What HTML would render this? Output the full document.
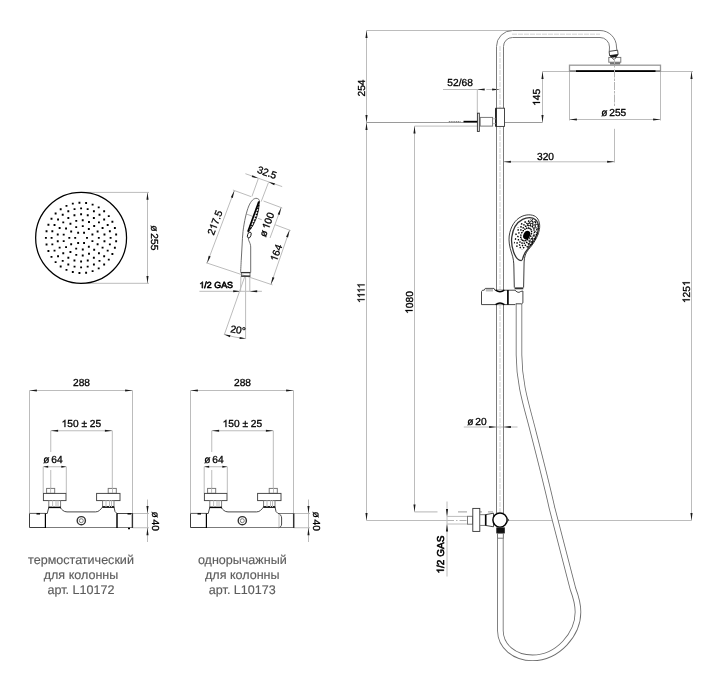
<!DOCTYPE html>
<html><head><meta charset="utf-8"><title>Shower column drawing</title>
<style>
html,body{margin:0;padding:0;background:#fff;}
body{width:720px;height:684px;overflow:hidden;font-family:"Liberation Sans",sans-serif;}
svg{display:block;position:absolute;left:0;top:0;text-rendering:geometricPrecision;will-change:transform;filter:grayscale(1)}
.k{fill:none;stroke:#333;stroke-width:0.9}
.kw{fill:#fff;stroke:#333;stroke-width:0.9}
.kb{fill:none;stroke:#000;stroke-width:1.45}
.g{fill:none;stroke:#747474;stroke-width:0.95}
.gw{fill:#fff;stroke:#747474;stroke-width:0.95}
.d{fill:none;stroke:#bcbcbc;stroke-width:1}
.dd{fill:none;stroke:#b4b4b4;stroke-width:1;stroke-dasharray:7 2 1.5 2}
.a{fill:#1a1a1a;stroke:none}
.f{fill:#111;stroke:none}
.t{font-family:"Liberation Sans",sans-serif;font-size:10.2px;fill:#000;stroke:#000;stroke-width:0.3}
.t1{fill:#000;stroke:#000}
.cap{font-family:"Liberation Sans",sans-serif;font-size:12.55px;fill:#5c5c5c;stroke:#5c5c5c;stroke-width:0.15}
</style></head><body>
<svg width="720" height="684" viewBox="0 0 720 684">
<line x1="81.10" y1="192.40" x2="149.00" y2="192.40" class="d" />
<line x1="81.10" y1="283.30" x2="149.00" y2="283.30" class="d" />
<line x1="147.50" y1="192.40" x2="147.50" y2="283.30" class="d" />
<path d="M147.50 192.40L148.55 199.80L146.45 199.80Z" class="a"/>
<path d="M147.50 283.30L146.45 275.90L148.55 275.90Z" class="a"/>
<circle cx="81.10" cy="237.85" r="45.45" class="k" style="stroke-width:1.25;stroke:#000"/>
<path d="M86.05 236.90h1.9v1.9h-1.9zM83.10 242.01h1.9v1.9h-1.9zM77.20 242.01h1.9v1.9h-1.9zM74.25 236.90h1.9v1.9h-1.9zM77.20 231.79h1.9v1.9h-1.9zM83.10 231.79h1.9v1.9h-1.9zM91.47 240.22h1.9v1.9h-1.9zM87.88 245.82h1.9v1.9h-1.9zM81.83 248.58h1.9v1.9h-1.9zM75.25 247.63h1.9v1.9h-1.9zM70.22 243.28h1.9v1.9h-1.9zM68.35 236.90h1.9v1.9h-1.9zM70.22 230.52h1.9v1.9h-1.9zM75.25 226.17h1.9v1.9h-1.9zM81.83 225.22h1.9v1.9h-1.9zM87.88 227.98h1.9v1.9h-1.9zM91.47 233.58h1.9v1.9h-1.9zM97.85 236.90h1.9v1.9h-1.9zM96.65 243.29h1.9v1.9h-1.9zM93.23 248.82h1.9v1.9h-1.9zM88.04 252.74h1.9v1.9h-1.9zM81.78 254.52h1.9v1.9h-1.9zM75.31 253.92h1.9v1.9h-1.9zM69.48 251.02h1.9v1.9h-1.9zM65.10 246.22h1.9v1.9h-1.9zM62.75 240.15h1.9v1.9h-1.9zM62.75 233.65h1.9v1.9h-1.9zM65.10 227.58h1.9v1.9h-1.9zM69.48 222.78h1.9v1.9h-1.9zM75.31 219.88h1.9v1.9h-1.9zM81.78 219.28h1.9v1.9h-1.9zM88.04 221.06h1.9v1.9h-1.9zM93.23 224.98h1.9v1.9h-1.9zM96.65 230.51h1.9v1.9h-1.9zM103.51 240.26h1.9v1.9h-1.9zM101.62 246.70h1.9v1.9h-1.9zM97.99 252.35h1.9v1.9h-1.9zM92.91 256.75h1.9v1.9h-1.9zM86.80 259.54h1.9v1.9h-1.9zM80.15 260.50h1.9v1.9h-1.9zM73.50 259.54h1.9v1.9h-1.9zM67.39 256.75h1.9v1.9h-1.9zM62.31 252.35h1.9v1.9h-1.9zM58.68 246.70h1.9v1.9h-1.9zM56.79 240.26h1.9v1.9h-1.9zM56.79 233.54h1.9v1.9h-1.9zM58.68 227.10h1.9v1.9h-1.9zM62.31 221.45h1.9v1.9h-1.9zM67.39 217.05h1.9v1.9h-1.9zM73.50 214.26h1.9v1.9h-1.9zM80.15 213.30h1.9v1.9h-1.9zM86.80 214.26h1.9v1.9h-1.9zM92.91 217.05h1.9v1.9h-1.9zM97.99 221.45h1.9v1.9h-1.9zM101.62 227.10h1.9v1.9h-1.9zM103.51 233.54h1.9v1.9h-1.9zM109.65 236.90h1.9v1.9h-1.9zM108.91 243.46h1.9v1.9h-1.9zM106.73 249.70h1.9v1.9h-1.9zM103.21 255.29h1.9v1.9h-1.9zM98.54 259.96h1.9v1.9h-1.9zM92.95 263.48h1.9v1.9h-1.9zM86.71 265.66h1.9v1.9h-1.9zM80.15 266.40h1.9v1.9h-1.9zM73.59 265.66h1.9v1.9h-1.9zM67.35 263.48h1.9v1.9h-1.9zM61.76 259.96h1.9v1.9h-1.9zM57.09 255.29h1.9v1.9h-1.9zM53.57 249.70h1.9v1.9h-1.9zM51.39 243.46h1.9v1.9h-1.9zM50.65 236.90h1.9v1.9h-1.9zM51.39 230.34h1.9v1.9h-1.9zM53.57 224.10h1.9v1.9h-1.9zM57.09 218.51h1.9v1.9h-1.9zM61.76 213.84h1.9v1.9h-1.9zM67.35 210.32h1.9v1.9h-1.9zM73.59 208.14h1.9v1.9h-1.9zM80.15 207.40h1.9v1.9h-1.9zM86.71 208.14h1.9v1.9h-1.9zM92.95 210.32h1.9v1.9h-1.9zM98.54 213.84h1.9v1.9h-1.9zM103.21 218.51h1.9v1.9h-1.9zM106.73 224.10h1.9v1.9h-1.9zM108.91 230.34h1.9v1.9h-1.9zM115.19 240.25h1.9v1.9h-1.9zM113.92 246.82h1.9v1.9h-1.9zM111.44 253.03h1.9v1.9h-1.9zM107.82 258.66h1.9v1.9h-1.9zM103.20 263.50h1.9v1.9h-1.9zM97.75 267.38h1.9v1.9h-1.9zM91.66 270.16h1.9v1.9h-1.9zM85.16 271.74h1.9v1.9h-1.9zM78.48 272.06h1.9v1.9h-1.9zM71.85 271.11h1.9v1.9h-1.9zM65.53 268.92h1.9v1.9h-1.9zM59.73 265.57h1.9v1.9h-1.9zM54.67 261.19h1.9v1.9h-1.9zM50.54 255.93h1.9v1.9h-1.9zM47.47 249.98h1.9v1.9h-1.9zM45.59 243.56h1.9v1.9h-1.9zM44.95 236.90h1.9v1.9h-1.9zM45.59 230.24h1.9v1.9h-1.9zM47.47 223.82h1.9v1.9h-1.9zM50.54 217.87h1.9v1.9h-1.9zM54.67 212.61h1.9v1.9h-1.9zM59.73 208.23h1.9v1.9h-1.9zM65.53 204.88h1.9v1.9h-1.9zM71.85 202.69h1.9v1.9h-1.9zM78.48 201.74h1.9v1.9h-1.9zM85.16 202.06h1.9v1.9h-1.9zM91.66 203.64h1.9v1.9h-1.9zM97.75 206.42h1.9v1.9h-1.9zM103.20 210.30h1.9v1.9h-1.9zM107.82 215.14h1.9v1.9h-1.9zM111.44 220.77h1.9v1.9h-1.9zM113.92 226.98h1.9v1.9h-1.9zM115.19 233.55h1.9v1.9h-1.9z" class="f" style="fill:#000"/>
<g transform="translate(151.20 237.85) rotate(90)">
<text x="-12.49" y="0" class="t" style="font-size:10.2px;stroke-width:0.3">ø</text>
<text x="-4.53" y="0" class="t" style="font-size:10.2px;stroke-width:0.3">255</text>
</g>
<g transform="translate(81.50 386.20) rotate(0)">
<text x="-8.51" y="0" class="t" style="font-size:10.2px;stroke-width:0.3">288</text>
</g>
<line x1="29.50" y1="390.50" x2="132.50" y2="390.50" class="d" />
<path d="M29.50 390.50L36.90 389.45L36.90 391.55Z" class="a"/>
<path d="M132.50 390.50L125.10 391.55L125.10 389.45Z" class="a"/>
<line x1="29.50" y1="390.50" x2="29.50" y2="513.00" class="d" />
<line x1="132.50" y1="390.50" x2="132.50" y2="513.00" class="d" />
<g transform="translate(81.40 427.10) rotate(0)">
<path d="M763 0H583V1147Q518 1085 412.5 1023T223 930V1104Q373 1174.5 485 1275T644 1466H763Z" class="t1" transform="translate(-19.81 0) scale(0.00498 -0.00498)" style="stroke-width:60.2"/>
<text x="-14.14" y="0" class="t" style="font-size:10.2px;stroke-width:0.3">50</text>
<text x="0.04" y="0" class="t" style="font-size:10.2px;stroke-width:0.3">±</text>
<text x="8.47" y="0" class="t" style="font-size:10.2px;stroke-width:0.3">25</text>
</g>
<line x1="50.75" y1="430.75" x2="112.30" y2="430.75" class="d" />
<path d="M50.75 430.75L58.15 429.70L58.15 431.80Z" class="a"/>
<path d="M112.30 430.75L104.90 431.80L104.90 429.70Z" class="a"/>
<line x1="50.75" y1="430.75" x2="50.75" y2="452.00" class="d" />
<line x1="50.75" y1="470.00" x2="50.75" y2="488.00" class="d" />
<line x1="112.30" y1="430.75" x2="112.30" y2="488.00" class="d" />
<g transform="translate(53.00 463.40) rotate(0)">
<text x="-9.65" y="0" class="t" style="font-size:10.2px;stroke-width:0.3">ø</text>
<text x="-1.69" y="0" class="t" style="font-size:10.2px;stroke-width:0.3">64</text>
</g>
<line x1="43.20" y1="466.75" x2="66.30" y2="466.75" class="d" />
<path d="M43.20 466.75L48.20 465.70L48.20 467.80Z" class="a"/>
<path d="M66.30 466.75L61.30 467.80L61.30 465.70Z" class="a"/>
<line x1="43.20" y1="466.75" x2="43.20" y2="493.00" class="d" />
<line x1="66.30" y1="466.75" x2="66.30" y2="493.00" class="d" />
<line x1="132.50" y1="513.50" x2="149.00" y2="513.50" class="d" />
<line x1="132.50" y1="527.75" x2="149.00" y2="527.75" class="d" />
<line x1="147.50" y1="499.50" x2="147.50" y2="542.00" class="d" />
<path d="M147.50 513.50L146.45 506.10L148.55 506.10Z" class="a"/>
<path d="M147.50 527.75L148.55 535.15L146.45 535.15Z" class="a"/>
<g transform="translate(151.80 521.20) rotate(90)">
<text x="-9.65" y="0" class="t" style="font-size:10.2px;stroke-width:0.3">ø</text>
<text x="-1.69" y="0" class="t" style="font-size:10.2px;stroke-width:0.3">40</text>
</g>
<path d="M29.50 513.4V527.5H45.40" class="k" style="stroke-width:0.95"/>
<line x1="29.50" y1="513.40" x2="45.40" y2="513.40" class="g" style="stroke:#555"/>
<line x1="45.60" y1="527.50" x2="132.50" y2="527.50" class="g" />
<line x1="45.40" y1="513.20" x2="45.40" y2="528.00" class="kb" style="stroke-width:1.2"/>
<line x1="36.50" y1="513.80" x2="40.00" y2="513.80" class="kb" />
<path d="M45.60 513.5 H47.20 L48.80 507.4 H59.80 C62.00 509.5 63.50 511.9 67.00 511.9 H95.50 C99.00 511.9 100.50 509.5 102.60 507 H114.00 L115.00 511.5 L117.00 513.5" class="k" />
<rect x="46.60" y="488.40" width="8.10" height="4.90" class="g" />
<line x1="50.60" y1="488.40" x2="50.60" y2="493.30" class="d" />
<rect x="43.40" y="493.40" width="22.60" height="7.20" class="g" style="stroke:#444"/>
<rect x="48.80" y="500.50" width="11.80" height="6.90" class="g" />
<line x1="48.60" y1="507.40" x2="60.80" y2="507.40" class="kb" />
<line x1="52.60" y1="500.50" x2="52.60" y2="507.00" class="d" />
<line x1="56.00" y1="500.50" x2="56.00" y2="507.00" class="d" />
<line x1="58.00" y1="500.50" x2="58.00" y2="507.00" class="d" />
<rect x="108.20" y="488.40" width="8.10" height="4.90" class="g" />
<line x1="112.50" y1="488.40" x2="112.50" y2="493.30" class="d" />
<rect x="96.60" y="493.40" width="23.40" height="7.20" class="g" style="stroke:#444"/>
<rect x="102.60" y="500.50" width="11.40" height="6.50" class="g" />
<line x1="102.40" y1="507.00" x2="114.20" y2="507.00" class="kb" />
<line x1="106.00" y1="500.50" x2="106.00" y2="507.00" class="d" />
<line x1="109.50" y1="500.50" x2="109.50" y2="507.00" class="d" />
<line x1="111.50" y1="500.50" x2="111.50" y2="507.00" class="d" />
<circle cx="81.30" cy="520.70" r="4.10" class="k" style="stroke-width:1.4"/>
<circle cx="81.30" cy="520.70" r="2.00" class="g" />
<path d="M117.00 513.5H132.50V527.75" class="k" />
<line x1="117.00" y1="513.30" x2="117.00" y2="528.00" class="kb" />
<line x1="132.40" y1="513.30" x2="132.40" y2="528.00" class="k" style="stroke-width:1.4"/>
<line x1="127.50" y1="513.80" x2="131.00" y2="513.80" class="kb" />
<line x1="128.00" y1="528.40" x2="130.00" y2="528.40" class="kb" />
<g transform="translate(242.50 386.20) rotate(0)">
<text x="-8.51" y="0" class="t" style="font-size:10.2px;stroke-width:0.3">288</text>
</g>
<line x1="190.50" y1="390.50" x2="293.50" y2="390.50" class="d" />
<path d="M190.50 390.50L197.90 389.45L197.90 391.55Z" class="a"/>
<path d="M293.50 390.50L286.10 391.55L286.10 389.45Z" class="a"/>
<line x1="190.50" y1="390.50" x2="190.50" y2="513.00" class="d" />
<line x1="293.50" y1="390.50" x2="293.50" y2="513.00" class="d" />
<g transform="translate(242.40 427.10) rotate(0)">
<path d="M763 0H583V1147Q518 1085 412.5 1023T223 930V1104Q373 1174.5 485 1275T644 1466H763Z" class="t1" transform="translate(-19.81 0) scale(0.00498 -0.00498)" style="stroke-width:60.2"/>
<text x="-14.14" y="0" class="t" style="font-size:10.2px;stroke-width:0.3">50</text>
<text x="0.04" y="0" class="t" style="font-size:10.2px;stroke-width:0.3">±</text>
<text x="8.47" y="0" class="t" style="font-size:10.2px;stroke-width:0.3">25</text>
</g>
<line x1="211.75" y1="430.75" x2="273.30" y2="430.75" class="d" />
<path d="M211.75 430.75L219.15 429.70L219.15 431.80Z" class="a"/>
<path d="M273.30 430.75L265.90 431.80L265.90 429.70Z" class="a"/>
<line x1="211.75" y1="430.75" x2="211.75" y2="452.00" class="d" />
<line x1="211.75" y1="470.00" x2="211.75" y2="488.00" class="d" />
<line x1="273.30" y1="430.75" x2="273.30" y2="488.00" class="d" />
<g transform="translate(214.00 463.40) rotate(0)">
<text x="-9.65" y="0" class="t" style="font-size:10.2px;stroke-width:0.3">ø</text>
<text x="-1.69" y="0" class="t" style="font-size:10.2px;stroke-width:0.3">64</text>
</g>
<line x1="204.20" y1="466.75" x2="227.30" y2="466.75" class="d" />
<path d="M204.20 466.75L209.20 465.70L209.20 467.80Z" class="a"/>
<path d="M227.30 466.75L222.30 467.80L222.30 465.70Z" class="a"/>
<line x1="204.20" y1="466.75" x2="204.20" y2="493.00" class="d" />
<line x1="227.30" y1="466.75" x2="227.30" y2="493.00" class="d" />
<line x1="293.50" y1="513.50" x2="310.00" y2="513.50" class="d" />
<line x1="293.50" y1="527.75" x2="310.00" y2="527.75" class="d" />
<line x1="308.50" y1="499.50" x2="308.50" y2="542.00" class="d" />
<path d="M308.50 513.50L307.45 506.10L309.55 506.10Z" class="a"/>
<path d="M308.50 527.75L309.55 535.15L307.45 535.15Z" class="a"/>
<g transform="translate(312.80 521.20) rotate(90)">
<text x="-9.65" y="0" class="t" style="font-size:10.2px;stroke-width:0.3">ø</text>
<text x="-1.69" y="0" class="t" style="font-size:10.2px;stroke-width:0.3">40</text>
</g>
<path d="M190.50 513.4V527.5H206.40" class="k" style="stroke-width:0.95"/>
<line x1="190.50" y1="513.40" x2="206.40" y2="513.40" class="g" style="stroke:#555"/>
<line x1="206.60" y1="527.50" x2="293.50" y2="527.50" class="g" />
<line x1="206.40" y1="513.20" x2="206.40" y2="528.00" class="kb" style="stroke-width:1.2"/>
<line x1="197.50" y1="513.80" x2="201.00" y2="513.80" class="kb" />
<path d="M206.60 513.5 H208.20 L209.80 507.4 H220.80 C223.00 509.5 224.50 511.9 228.00 511.9 H256.50 C260.00 511.9 261.50 509.5 263.60 507 H275.00 L276.00 511.5 L278.00 513.5" class="k" />
<rect x="207.60" y="488.40" width="8.10" height="4.90" class="g" />
<line x1="211.60" y1="488.40" x2="211.60" y2="493.30" class="d" />
<rect x="204.40" y="493.40" width="22.60" height="7.20" class="g" style="stroke:#444"/>
<rect x="209.80" y="500.50" width="11.80" height="6.90" class="g" />
<line x1="209.60" y1="507.40" x2="221.80" y2="507.40" class="kb" />
<line x1="213.60" y1="500.50" x2="213.60" y2="507.00" class="d" />
<line x1="217.00" y1="500.50" x2="217.00" y2="507.00" class="d" />
<line x1="219.00" y1="500.50" x2="219.00" y2="507.00" class="d" />
<rect x="269.20" y="488.40" width="8.10" height="4.90" class="g" />
<line x1="273.50" y1="488.40" x2="273.50" y2="493.30" class="d" />
<rect x="257.60" y="493.40" width="23.40" height="7.20" class="g" style="stroke:#444"/>
<rect x="263.60" y="500.50" width="11.40" height="6.50" class="g" />
<line x1="263.40" y1="507.00" x2="275.20" y2="507.00" class="kb" />
<line x1="267.00" y1="500.50" x2="267.00" y2="507.00" class="d" />
<line x1="270.50" y1="500.50" x2="270.50" y2="507.00" class="d" />
<line x1="272.50" y1="500.50" x2="272.50" y2="507.00" class="d" />
<circle cx="242.30" cy="520.70" r="4.10" class="k" style="stroke-width:1.4"/>
<circle cx="242.30" cy="520.70" r="2.00" class="g" />
<path d="M278.00 513.5H293.50" class="g" />
<path d="M278.00 513.5 C280.50 514 281.60 516 281.60 518 V524 C281.60 526 280.50 527.3 278.50 527.75" class="k" />
<line x1="279.00" y1="515.00" x2="279.00" y2="527.50" class="d" />
<line x1="293.70" y1="513.30" x2="293.70" y2="528.00" class="k" style="stroke-width:1.5"/>
<text x="81.00" y="563.60" class="cap" text-anchor="middle">термостатический</text>
<text x="81.00" y="578.95" class="cap" text-anchor="middle">для колонны</text>
<text x="81.00" y="594.30" class="cap" text-anchor="middle">арт. L10172</text>
<text x="242.30" y="563.60" class="cap" text-anchor="middle">однорычажный</text>
<text x="242.30" y="578.95" class="cap" text-anchor="middle">для колонны</text>
<text x="242.30" y="594.30" class="cap" text-anchor="middle">арт. L10173</text>
<line x1="245.40" y1="173.70" x2="282.20" y2="186.60" class="d" />
<line x1="258.20" y1="179.00" x2="251.90" y2="196.50" class="d" />
<line x1="268.40" y1="182.70" x2="261.20" y2="201.60" class="d" />
<path d="M258.20 178.30L251.72 177.12L252.42 175.14Z" class="a"/>
<path d="M268.40 182.00L274.88 183.18L274.18 185.16Z" class="a"/>
<g transform="translate(265.80 175.90) rotate(19.5)">
<text x="-9.93" y="0" class="t" style="font-size:10.2px;stroke-width:0.3">32.5</text>
</g>
<line x1="234.40" y1="190.60" x2="207.10" y2="263.10" class="d" />
<path d="M234.40 190.60L232.79 197.90L230.82 197.16Z" class="a"/>
<path d="M207.10 263.10L208.71 255.80L210.68 256.54Z" class="a"/>
<line x1="232.90" y1="190.00" x2="251.00" y2="196.60" class="d" />
<line x1="206.00" y1="262.70" x2="272.50" y2="284.90" class="d" />
<g transform="translate(218.20 223.90) rotate(-69.5)">
<text x="-12.76" y="0" class="t" style="font-size:10.2px;stroke-width:0.3">2</text>
<path d="M763 0H583V1147Q518 1085 412.5 1023T223 930V1104Q373 1174.5 485 1275T644 1466H763Z" class="t1" transform="translate(-7.09 0) scale(0.00498 -0.00498)" style="stroke-width:60.2"/>
<text x="-1.42" y="0" class="t" style="font-size:10.2px;stroke-width:0.3">7.5</text>
</g>
<line x1="263.50" y1="201.00" x2="282.30" y2="208.00" class="d" />
<line x1="281.20" y1="207.60" x2="270.00" y2="238.00" class="d" />
<path d="M281.20 207.60L279.63 214.91L277.66 214.18Z" class="a"/>
<g transform="translate(270.10 225.70) rotate(-69.8)">
<text x="-12.49" y="0" class="t" style="font-size:10.2px;stroke-width:0.3">ø</text>
<path d="M763 0H583V1147Q518 1085 412.5 1023T223 930V1104Q373 1174.5 485 1275T644 1466H763Z" class="t1" transform="translate(-4.53 0) scale(0.00498 -0.00498)" style="stroke-width:60.2"/>
<text x="1.15" y="0" class="t" style="font-size:10.2px;stroke-width:0.3">00</text>
</g>
<line x1="246.40" y1="214.00" x2="261.70" y2="219.70" class="dd" />
<line x1="275.00" y1="224.70" x2="290.60" y2="230.50" class="d" />
<line x1="289.60" y1="230.10" x2="270.90" y2="284.40" class="d" />
<path d="M289.60 230.10L288.03 237.41L286.06 236.68Z" class="a"/>
<path d="M270.90 284.40L272.47 277.09L274.44 277.82Z" class="a"/>
<g transform="translate(279.50 254.00) rotate(-69.8)">
<path d="M763 0H583V1147Q518 1085 412.5 1023T223 930V1104Q373 1174.5 485 1275T644 1466H763Z" class="t1" transform="translate(-8.51 0) scale(0.00498 -0.00498)" style="stroke-width:60.2"/>
<text x="-2.84" y="0" class="t" style="font-size:10.2px;stroke-width:0.3">64</text>
</g>
<g transform="translate(199.40 288.10) rotate(0)">
<path d="M763 0H583V1147Q518 1085 412.5 1023T223 930V1104Q373 1174.5 485 1275T644 1466H763Z" class="t1" transform="translate(0.00 0) scale(0.00435 -0.00435)" style="stroke-width:138.1"/>
<text x="4.95" y="0" class="t" style="font-size:8.9px;stroke-width:0.6">/2</text>
<text x="14.84" y="0" class="t" style="font-size:8.9px;stroke-width:0.6">GAS</text>
</g>
<line x1="199.40" y1="291.30" x2="261.90" y2="291.30" class="d" />
<path d="M240.60 291.30L233.20 292.35L233.20 290.25Z" class="a"/>
<path d="M249.80 291.30L257.20 290.25L257.20 292.35Z" class="a"/>
<line x1="240.90" y1="276.30" x2="240.60" y2="291.30" class="d" />
<line x1="249.80" y1="276.30" x2="249.80" y2="291.30" class="d" />
<line x1="245.60" y1="276.50" x2="245.60" y2="339.00" class="d" />
<line x1="244.60" y1="277.00" x2="224.20" y2="335.00" class="d" />
<path d="M224.4 334.6 Q235 337.6 245.6 338.6" class="d" />
<path d="M224.40 334.60L230.46 335.24L229.88 337.26Z" class="a"/>
<path d="M245.60 338.60L239.52 339.02L239.74 336.93Z" class="a"/>
<g transform="translate(237.50 333.40) rotate(9)">
<text x="-7.71" y="0" class="t" style="font-size:10.2px;stroke-width:0.3">20°</text>
</g>
<path d="M240.60 272.50 C240.72 270.25 241.05 263.58 241.30 259.00 C241.55 254.42 241.82 249.58 242.10 245.00 C242.38 240.42 242.43 236.17 243.00 231.50 C243.57 226.83 244.53 221.25 245.50 217.00 C246.47 212.75 247.63 208.82 248.80 206.00 C249.97 203.18 251.28 201.38 252.50 200.10 C253.72 198.82 255.05 198.42 256.10 198.30 C257.15 198.18 258.22 198.90 258.80 199.40 C259.38 199.90 259.47 200.98 259.60 201.30" class="g" style="stroke:#666"/>
<path d="M250.7 272.5 V247 C250.7 244.5 249.6 242.5 248.9 240.8 C248.4 239.6 248.2 238.8 248.5 238.0" class="g" style="stroke:#666"/>
<path d="M259.3 201.0 Q259.2 218.8 248.2 232.2" class="k" style="stroke:#000;stroke-width:0.9"/>
<path d="M258.9 201.6 L247.9 231.7" class="kb" style="stroke-width:1.7"/>
<path d="M258.6 205.0 Q256.6 218.0 249.8 229.4" class="k" style="stroke:#000;stroke-width:1.6;stroke-dasharray:1.3 1.7"/>
<ellipse cx="249.3" cy="235.0" rx="1.7" ry="3.1" class="k" transform="rotate(18 249.3 235.0)" style="stroke:#111"/>
<rect x="241.40" y="272.50" width="8.60" height="3.60" class="g" />
<line x1="240.90" y1="272.60" x2="250.40" y2="272.60" class="k" style="stroke-width:1.3"/>
<line x1="241.20" y1="276.20" x2="250.20" y2="276.20" class="k" style="stroke-width:1.3"/>
<line x1="366.50" y1="30.50" x2="511.00" y2="30.50" class="d" />
<line x1="366.50" y1="30.50" x2="366.50" y2="520.50" class="d" />
<path d="M366.50 30.50L367.55 37.90L365.45 37.90Z" class="a"/>
<path d="M366.50 122.50L365.45 115.10L367.55 115.10Z" class="a"/>
<path d="M366.50 122.50L367.55 129.90L365.45 129.90Z" class="a"/>
<path d="M366.50 520.50L365.45 513.10L367.55 513.10Z" class="a"/>
<line x1="366.50" y1="122.50" x2="477.30" y2="122.50" class="d" style="stroke:#9a9a9a"/>
<line x1="504.60" y1="122.50" x2="542.50" y2="122.50" class="d" style="stroke:#9a9a9a"/>
<g transform="translate(364.60 88.00) rotate(-90)">
<text x="-8.51" y="0" class="t" style="font-size:10.2px;stroke-width:0.3">254</text>
</g>
<g transform="translate(364.60 292.80) rotate(-90)">
<path d="M763 0H583V1147Q518 1085 412.5 1023T223 930V1104Q373 1174.5 485 1275T644 1466H763Z" class="t1" transform="translate(-10.21 0) scale(0.00498 -0.00498)" style="stroke-width:60.2"/>
<path d="M763 0H583V1147Q518 1085 412.5 1023T223 930V1104Q373 1174.5 485 1275T644 1466H763Z" class="t1" transform="translate(-5.29 0) scale(0.00498 -0.00498)" style="stroke-width:60.2"/>
<path d="M763 0H583V1147Q518 1085 412.5 1023T223 930V1104Q373 1174.5 485 1275T644 1466H763Z" class="t1" transform="translate(-0.38 0) scale(0.00498 -0.00498)" style="stroke-width:60.2"/>
<path d="M763 0H583V1147Q518 1085 412.5 1023T223 930V1104Q373 1174.5 485 1275T644 1466H763Z" class="t1" transform="translate(4.54 0) scale(0.00498 -0.00498)" style="stroke-width:60.2"/>
</g>
<line x1="414.50" y1="126.10" x2="414.50" y2="511.90" class="d" />
<path d="M414.50 126.10L415.55 133.50L413.45 133.50Z" class="a"/>
<path d="M414.50 511.90L413.45 504.50L415.55 504.50Z" class="a"/>
<line x1="414.50" y1="126.10" x2="479.00" y2="126.10" class="d" />
<line x1="414.50" y1="511.90" x2="437.50" y2="511.90" class="d" style="stroke-width:1.1"/>
<line x1="458.00" y1="511.90" x2="493.00" y2="511.90" class="d" style="stroke-width:1.2;stroke:#b0b0b0" stroke-dasharray="9 6"/>
<g transform="translate(412.60 302.50) rotate(-90)">
<path d="M763 0H583V1147Q518 1085 412.5 1023T223 930V1104Q373 1174.5 485 1275T644 1466H763Z" class="t1" transform="translate(-11.35 0) scale(0.00498 -0.00498)" style="stroke-width:60.2"/>
<text x="-5.67" y="0" class="t" style="font-size:10.2px;stroke-width:0.3">080</text>
</g>
<line x1="366.50" y1="520.50" x2="447.00" y2="520.50" class="d" />
<line x1="447.00" y1="520.50" x2="493.00" y2="520.50" class="dd" />
<line x1="508.50" y1="520.50" x2="691.50" y2="520.50" class="d" />
<line x1="660.50" y1="71.50" x2="693.00" y2="71.50" class="d" />
<line x1="691.50" y1="71.50" x2="691.50" y2="520.50" class="d" />
<path d="M691.50 71.50L692.55 78.90L690.45 78.90Z" class="a"/>
<path d="M691.50 520.50L690.45 513.10L692.55 513.10Z" class="a"/>
<g transform="translate(689.80 291.80) rotate(-90)">
<path d="M763 0H583V1147Q518 1085 412.5 1023T223 930V1104Q373 1174.5 485 1275T644 1466H763Z" class="t1" transform="translate(-11.35 0) scale(0.00498 -0.00498)" style="stroke-width:60.2"/>
<text x="-5.67" y="0" class="t" style="font-size:10.2px;stroke-width:0.3">25</text>
<path d="M763 0H583V1147Q518 1085 412.5 1023T223 930V1104Q373 1174.5 485 1275T644 1466H763Z" class="t1" transform="translate(5.67 0) scale(0.00498 -0.00498)" style="stroke-width:60.2"/>
</g>
<line x1="542.50" y1="71.50" x2="569.50" y2="71.50" class="d" />
<line x1="542.50" y1="71.50" x2="542.50" y2="122.50" class="d" />
<path d="M542.50 71.50L543.55 78.90L541.45 78.90Z" class="a"/>
<path d="M542.50 122.50L541.45 115.10L543.55 115.10Z" class="a"/>
<g transform="translate(540.00 97.30) rotate(-90)">
<path d="M763 0H583V1147Q518 1085 412.5 1023T223 930V1104Q373 1174.5 485 1275T644 1466H763Z" class="t1" transform="translate(-8.51 0) scale(0.00498 -0.00498)" style="stroke-width:60.2"/>
<text x="-2.84" y="0" class="t" style="font-size:10.2px;stroke-width:0.3">45</text>
</g>
<line x1="569.50" y1="71.50" x2="569.50" y2="120.50" class="d" />
<line x1="660.50" y1="71.50" x2="660.50" y2="120.50" class="d" />
<line x1="569.50" y1="119.50" x2="660.50" y2="119.50" class="d" />
<path d="M569.50 119.50L576.90 118.45L576.90 120.55Z" class="a"/>
<path d="M660.50 119.50L653.10 120.55L653.10 118.45Z" class="a"/>
<g transform="translate(613.80 116.00) rotate(0)">
<text x="-12.49" y="0" class="t" style="font-size:10.2px;stroke-width:0.3">ø</text>
<text x="-4.53" y="0" class="t" style="font-size:10.2px;stroke-width:0.3">255</text>
</g>
<line x1="614.50" y1="58.00" x2="614.50" y2="106.00" class="dd" />
<line x1="614.50" y1="128.80" x2="614.50" y2="162.50" class="d" />
<line x1="503.50" y1="161.80" x2="614.50" y2="161.80" class="d" />
<path d="M503.50 161.80L510.90 160.75L510.90 162.85Z" class="a"/>
<path d="M614.50 161.80L607.10 162.85L607.10 160.75Z" class="a"/>
<g transform="translate(545.50 160.20) rotate(0)">
<text x="-8.51" y="0" class="t" style="font-size:10.2px;stroke-width:0.3">320</text>
</g>
<g transform="translate(460.10 85.60) rotate(0)">
<text x="-12.76" y="0" class="t" style="font-size:10.2px;stroke-width:0.3">52/68</text>
</g>
<line x1="443.00" y1="89.50" x2="477.30" y2="89.50" class="d" />
<line x1="477.30" y1="89.50" x2="499.50" y2="89.50" class="d" stroke-dasharray="7 2"/>
<path d="M477.30 89.50L484.70 88.45L484.70 90.55Z" class="a"/>
<path d="M499.50 89.50L492.10 90.55L492.10 88.45Z" class="a"/>
<line x1="477.30" y1="89.50" x2="477.30" y2="113.00" class="d" />
<line x1="463.80" y1="427.00" x2="517.50" y2="427.00" class="d" />
<path d="M496.50 427.00L489.10 428.05L489.10 425.95Z" class="a"/>
<path d="M503.50 427.00L510.90 425.95L510.90 428.05Z" class="a"/>
<g transform="translate(477.00 424.60) rotate(0)">
<text x="-9.65" y="0" class="t" style="font-size:10.2px;stroke-width:0.3">ø</text>
<text x="-1.69" y="0" class="t" style="font-size:10.2px;stroke-width:0.3">20</text>
</g>
<line x1="447.00" y1="501.50" x2="447.00" y2="576.50" class="d" />
<path d="M447.00 516.40L445.95 509.00L448.05 509.00Z" class="a"/>
<path d="M447.00 524.00L448.05 531.40L445.95 531.40Z" class="a"/>
<line x1="447.00" y1="516.40" x2="467.50" y2="516.40" class="d" />
<line x1="447.00" y1="524.00" x2="467.50" y2="524.00" class="d" />
<g transform="translate(443.80 554.60) rotate(-90)">
<path d="M763 0H583V1147Q518 1085 412.5 1023T223 930V1104Q373 1174.5 485 1275T644 1466H763Z" class="t1" transform="translate(-18.90 0) scale(0.00488 -0.00488)" style="stroke-width:122.9"/>
<text x="-13.34" y="0" class="t" style="font-size:10.0px;stroke-width:0.6">/2</text>
<text x="-2.22" y="0" class="t" style="font-size:10.0px;stroke-width:0.6">GAS</text>
</g>
<path d="M500.35 533 V630.5 C500.5 646 514 657.8 532.5 657.8 C558 657.8 578 634 578 612 C578 604 576 597 573 589 L552 508 C548 490 541 462 533 431 C527 407 519.2 385 519 355 V304" class="g" style="stroke-width:6.5;stroke:#6e6e6e"/>
<path d="M500.35 533 V630.5 C500.5 646 514 657.8 532.5 657.8 C558 657.8 578 634 578 612 C578 604 576 597 573 589 L552 508 C548 490 541 462 533 431 C527 407 519.2 385 519 355 V304" class="g" style="stroke-width:4.8;stroke:#fff"/>
<line x1="500.00" y1="46.00" x2="500.00" y2="512.00" class="d" style="stroke:#d2d2d2;stroke-dasharray:5 1"/>
<line x1="512.00" y1="34.20" x2="600.00" y2="34.20" class="d" style="stroke:#d2d2d2;stroke-dasharray:5 1"/>
<path d="M496.5 513 V46.5 A16 16 0 0 1 512.5 30.5 H600 A16.5 16.5 0 0 1 616.5 47 L616.9 50.5" class="g" />
<path d="M503.5 513 V46.5 A9 9 0 0 1 512.5 37.5 H600 A9.5 9.5 0 0 1 609.5 47 L609.3 51" class="g" />
<path d="M609.1 51.4 L617.6 50.2 L618.1 54.4 L609.6 55.6 Z" class="kw" />
<path d="M609.6 55.6 L618.0 54.6 L614.2 59.8 Z" class="f" />
<rect x="608.80" y="57.40" width="12.00" height="4.80" class="gw" />
<path d="M609.6 55.6 L614.2 59.8 L618 54.6" class="k" />
<rect x="610.00" y="62.20" width="10.20" height="2.40" class="g" style="fill:#777;stroke:none"/>
<rect x="569.50" y="65.20" width="91.00" height="5.90" class="d" style="stroke:#999;stroke-width:1.3;fill:#fff"/>
<line x1="569.50" y1="71.20" x2="660.50" y2="71.20" class="k" style="stroke:#777;stroke-width:1.2"/>
<line x1="576.00" y1="71.20" x2="655.50" y2="71.20" class="kb" style="stroke-width:1.7"/>
<line x1="614.50" y1="57.00" x2="614.50" y2="106.00" class="dd" />
<rect x="495.90" y="108.20" width="8.60" height="18.20" class="kw" />
<line x1="496.00" y1="108.20" x2="496.00" y2="126.40" class="kb" />
<rect x="480.20" y="117.40" width="12.40" height="8.70" class="gw" />
<rect x="477.40" y="113.20" width="1.90" height="18.20" class="gw" style="stroke:#333"/>
<line x1="463.50" y1="121.60" x2="477.30" y2="121.60" class="kb" style="stroke-width:1.6"/>
<line x1="448.80" y1="121.80" x2="460.50" y2="121.80" class="g" style="stroke-width:1.4;stroke:#888;stroke-dasharray:1.2 0.6"/>
<line x1="493.00" y1="118.80" x2="495.50" y2="118.80" class="d" />
<line x1="493.00" y1="123.60" x2="495.50" y2="123.60" class="d" />
<path d="M481.5 304.6 V291.6 L482.6 290.2 H484.2 L485.3 288.4 H494 L494.9 290.2 H507.9 V304.6 Z" class="kw" />
<rect x="485.80" y="288.90" width="7.20" height="2.60" class="d" style="fill:#bbb;stroke:none"/>
<path d="M495.6 290.2 Q500 293.2 504.4 290.2" class="kb" style="fill:#fff"/>
<path d="M495.6 304.6 Q500 301.2 504.4 304.6" class="kb" style="fill:#fff"/>
<path d="M507.9 290.2 H515 Q517 292.6 519 292.4 Q520.6 291.2 522.9 291 V302.9 L521.7 303.8 H515.8 L515 304.6 H507.9 Z" class="kw" />
<line x1="507.90" y1="290.00" x2="507.90" y2="304.80" class="kb" />
<path d="M514.3 287.6 L513.9 268 C513.8 262 513.5 258.5 511.6 253 C509.4 246.5 508.6 241 509.2 236 C510.5 226 515.6 219.5 521 216.8 C526 214.2 532 214.2 535.6 216.6 C539.2 219.2 540.3 224.5 539.4 229.5 C538 237 533 244.5 528.4 249.6 C525.6 253 524.3 256.5 524.1 262 L523.6 287.6" class="gw" style="stroke:#333"/>
<path d="M521.2 260.6 C518 260.6 515.6 257.5 513.6 252 C511.6 246.5 511.2 241.5 511.8 237 C513 228 517.5 222 522.6 219.4 C527 217.2 532.4 217.1 535.2 219.4 C538.2 221.8 539 226 538.2 230.2 C537 237 532.6 243.6 528 248.8 C525 252.2 523.6 255 522.9 258 C522.6 259.6 522 260.6 521.2 260.6 Z" class="k" style="stroke-width:1.3"/>
<rect x="514.60" y="287.40" width="8.70" height="1.90" class="f" style="fill:#333"/>
<rect x="467.50" y="516.30" width="5.20" height="7.90" class="gw" />
<rect x="472.80" y="508.40" width="7.00" height="23.00" class="kw" />
<rect x="479.80" y="514.70" width="5.60" height="10.70" class="gw" />
<path d="M485.4 514.7 L493.5 513.2 V526.8 L485.4 525.4 Z" class="kw" />
<line x1="485.80" y1="514.70" x2="485.80" y2="525.40" class="kb" />
<circle cx="500.00" cy="520.00" r="7.10" class="kb" style="fill:#fff"/>
<path d="M506.6 517.8 L508.4 520 L506.6 522.2" class="k" style="stroke-width:1.3"/>
<rect x="496.30" y="527.40" width="8.50" height="6.00" class="f" />
<rect x="497.50" y="533.40" width="5.80" height="4.80" class="gw" />
<path d="M529.46 228.97 L530.10 228.37 L530.78 227.83 L531.49 227.34 L532.22 226.91 L532.98 226.55 L533.75 226.26 L534.53 226.05 L535.32 225.92 L536.11 225.87 L536.89 225.90 L537.67 226.02 L538.42 226.24" class="k" style="stroke:#000;stroke-width:1.5;stroke-dasharray:1.4 1.6"/>
<path d="M533.45 230.56 L534.12 230.70 L534.77 230.93 L535.39 231.26 L535.97 231.68 L536.51 232.19 L537.00 232.80 L537.44 233.51 L537.83 234.30" class="k" style="stroke:#000;stroke-width:0.9"/>
<path d="M530.45 230.01 L531.14 229.65 L531.85 229.37 L532.56 229.16 L533.27 229.04 L533.99 228.99 L534.69 229.02 L535.38 229.15 L536.05 229.36 L536.70 229.66 L537.31 230.05 L537.89 230.54 L538.43 231.11" class="k" style="stroke:#000;stroke-width:1.5;stroke-dasharray:1.4 1.6"/>
<path d="M533.15 233.54 L533.64 233.99 L534.09 234.53 L534.49 235.16 L534.82 235.88 L535.10 236.68 L535.31 237.56 L535.45 238.52 L535.51 239.55" class="k" style="stroke:#000;stroke-width:0.9"/>
<path d="M530.92 231.57 L531.58 231.51 L532.23 231.52 L532.86 231.62 L533.47 231.80 L534.06 232.07 L534.61 232.43 L535.12 232.88 L535.59 233.41 L536.01 234.03 L536.39 234.73 L536.70 235.51 L536.96 236.38" class="k" style="stroke:#000;stroke-width:1.5;stroke-dasharray:1.4 1.6"/>
<path d="M532.01 236.61 L532.27 237.32 L532.46 238.11 L532.59 238.97 L532.64 239.90 L532.62 240.89 L532.52 241.94 L532.34 243.04 L532.08 244.19" class="k" style="stroke:#000;stroke-width:0.9"/>
<path d="M530.82 233.48 L531.37 233.71 L531.89 234.02 L532.36 234.41 L532.79 234.88 L533.18 235.44 L533.51 236.08 L533.78 236.79 L534.00 237.58 L534.15 238.44 L534.23 239.37 L534.25 240.36 L534.19 241.41" class="k" style="stroke:#000;stroke-width:1.5;stroke-dasharray:1.4 1.6"/>
<path d="M530.17 239.42 L530.16 240.31 L530.08 241.25 L529.92 242.23 L529.68 243.26 L529.36 244.32 L528.96 245.41 L528.49 246.52 L527.93 247.64" class="k" style="stroke:#000;stroke-width:0.9"/>
<path d="M530.17 235.50 L530.54 235.99 L530.86 236.56 L531.12 237.20 L531.32 237.91 L531.45 238.68 L531.53 239.52 L531.53 240.42 L531.46 241.37 L531.33 242.37 L531.11 243.41 L530.83 244.48 L530.46 245.59" class="k" style="stroke:#000;stroke-width:1.5;stroke-dasharray:1.4 1.6"/>
<path d="M529.04 237.39 L529.18 238.09 L529.26 238.84 L529.28 239.65 L529.22 240.51 L529.10 241.41 L528.90 242.35 L528.64 243.32 L528.30 244.31 L527.88 245.33 L527.40 246.36 L526.84 247.39 L526.22 248.42" class="k" style="stroke:#000;stroke-width:1.5;stroke-dasharray:1.4 1.6"/>
<path d="M527.56 238.91 L527.47 239.73 L527.30 240.59 L527.07 241.47 L526.77 242.37 L526.40 243.29 L525.96 244.21 L525.45 245.14 L524.87 246.06 L524.24 246.98 L523.54 247.87 L522.78 248.73 L521.97 249.57" class="k" style="stroke:#000;stroke-width:1.5;stroke-dasharray:1.4 1.6"/>
<path d="M525.92 239.90 L525.60 240.74 L525.21 241.59 L524.76 242.43 L524.24 243.27 L523.67 244.10 L523.04 244.90 L522.35 245.67 L521.61 246.41 L520.83 247.10 L520.00 247.75 L519.14 248.35 L518.24 248.88" class="k" style="stroke:#000;stroke-width:1.5;stroke-dasharray:1.4 1.6"/>
<path d="M524.32 240.21 L523.80 240.98 L523.24 241.72 L522.62 242.43 L521.95 243.10 L521.25 243.73 L520.50 244.31 L519.72 244.84 L518.91 245.30 L518.07 245.70 L517.21 246.03 L516.34 246.28 L515.46 246.45" class="k" style="stroke:#000;stroke-width:1.5;stroke-dasharray:1.4 1.6"/>
<path d="M522.94 239.83 L522.30 240.43 L521.62 240.97 L520.91 241.46 L520.18 241.89 L519.42 242.25 L518.65 242.54 L517.87 242.75 L517.08 242.88 L516.29 242.93 L515.51 242.90 L514.73 242.78 L513.98 242.56" class="k" style="stroke:#000;stroke-width:1.5;stroke-dasharray:1.4 1.6"/>
<path d="M521.95 238.79 L521.26 239.15 L520.55 239.43 L519.84 239.64 L519.13 239.76 L518.41 239.81 L517.71 239.78 L517.02 239.65 L516.35 239.44 L515.70 239.14 L515.09 238.75 L514.51 238.26 L513.97 237.69" class="k" style="stroke:#000;stroke-width:1.5;stroke-dasharray:1.4 1.6"/>
<path d="M521.48 237.23 L520.82 237.29 L520.17 237.28 L519.54 237.18 L518.93 237.00 L518.34 236.73 L517.79 236.37 L517.28 235.92 L516.81 235.39 L516.39 234.77 L516.01 234.07 L515.70 233.29 L515.44 232.42" class="k" style="stroke:#000;stroke-width:1.5;stroke-dasharray:1.4 1.6"/>
<path d="M521.58 235.32 L521.03 235.09 L520.51 234.78 L520.04 234.39 L519.61 233.92 L519.22 233.36 L518.89 232.72 L518.62 232.01 L518.40 231.22 L518.25 230.36 L518.17 229.43 L518.15 228.44 L518.21 227.39" class="k" style="stroke:#000;stroke-width:1.5;stroke-dasharray:1.4 1.6"/>
<path d="M522.23 233.30 L521.86 232.81 L521.54 232.24 L521.28 231.60 L521.08 230.89 L520.95 230.12 L520.87 229.28 L520.87 228.38 L520.94 227.43 L521.07 226.43 L521.29 225.39 L521.57 224.32 L521.94 223.21" class="k" style="stroke:#000;stroke-width:1.5;stroke-dasharray:1.4 1.6"/>
<path d="M523.36 231.41 L523.22 230.71 L523.14 229.96 L523.12 229.15 L523.18 228.29 L523.30 227.39 L523.50 226.45 L523.76 225.48 L524.10 224.49 L524.52 223.47 L525.00 222.44 L525.56 221.41 L526.18 220.38" class="k" style="stroke:#000;stroke-width:1.5;stroke-dasharray:1.4 1.6"/>
<path d="M527.07 225.84 L527.57 224.94 L528.15 224.04 L528.79 223.16 L529.50 222.30 L530.26 221.48 L531.08 220.69 L531.94 219.96 L532.86 219.27" class="k" style="stroke:#000;stroke-width:0.9"/>
<path d="M524.84 229.89 L524.93 229.07 L525.10 228.21 L525.33 227.33 L525.63 226.43 L526.00 225.51 L526.44 224.59 L526.95 223.66 L527.53 222.74 L528.16 221.82 L528.86 220.93 L529.62 220.07 L530.43 219.23" class="k" style="stroke:#000;stroke-width:1.5;stroke-dasharray:1.4 1.6"/>
<path d="M529.48 225.54 L530.16 224.79 L530.89 224.08 L531.67 223.42 L532.49 222.82 L533.35 222.27 L534.24 221.79 L535.16 221.39 L536.09 221.06" class="k" style="stroke:#000;stroke-width:0.9"/>
<path d="M526.48 228.90 L526.80 228.06 L527.19 227.21 L527.64 226.37 L528.16 225.53 L528.73 224.70 L529.36 223.90 L530.05 223.13 L530.79 222.39 L531.57 221.70 L532.40 221.05 L533.26 220.45 L534.16 219.92" class="k" style="stroke:#000;stroke-width:1.5;stroke-dasharray:1.4 1.6"/>
<path d="M531.50 226.31 L532.27 225.81 L533.07 225.37 L533.89 225.01 L534.73 224.73 L535.58 224.53 L536.43 224.41 L537.29 224.39 L538.13 224.46" class="k" style="stroke:#000;stroke-width:0.9"/>
<path d="M528.08 228.59 L528.60 227.82 L529.16 227.08 L529.78 226.37 L530.45 225.70 L531.15 225.07 L531.90 224.49 L532.68 223.96 L533.49 223.50 L534.33 223.10 L535.19 222.77 L536.06 222.52 L536.94 222.35" class="k" style="stroke:#000;stroke-width:1.5;stroke-dasharray:1.4 1.6"/>
<path d="M532.88 228.05 L533.64 227.86 L534.41 227.75 L535.18 227.73 L535.94 227.81 L536.67 227.97 L537.39 228.24 L538.08 228.60 L538.74 229.06" class="k" style="stroke:#000;stroke-width:0.9"/>
<ellipse cx="526.70" cy="235.20" rx="3.3" ry="4.5" class="f" transform="rotate(24 526.70 235.20)" style="fill:#000"/>
</svg>
</body></html>
